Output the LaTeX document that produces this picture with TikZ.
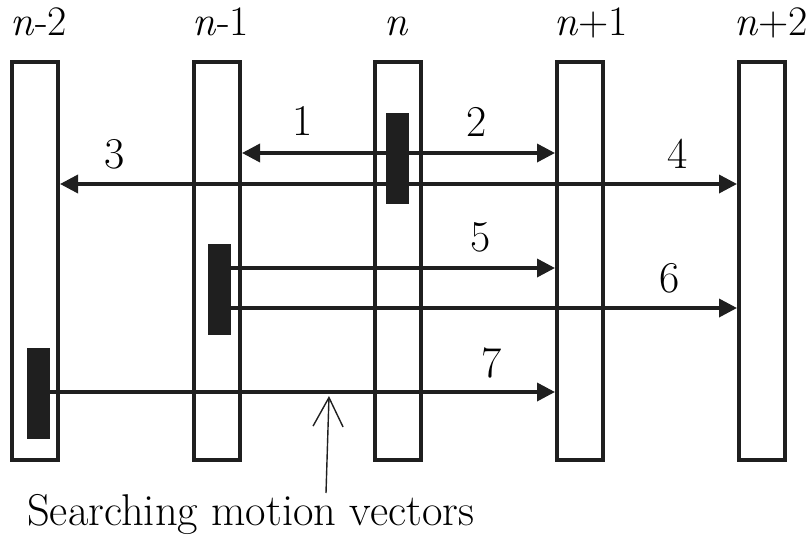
\documentclass[tikz,border=0pt]{standalone}
\usetikzlibrary{arrows.meta,calc}
\begin{document}
\begin{tikzpicture}[x=1pt,y=-1pt,
  frame/.style={draw=black!88,line width=4pt,minimum width=46pt,minimum height=398pt,inner sep=0pt},
  blk/.style={fill=black!88,minimum width=23pt,minimum height=91pt,inner sep=0pt},
  arr/.style={draw=black!88,line width=3.5pt,-{Triangle[length=18pt,width=18pt]}},
  lbl/.style={font=\fontsize{44}{44}\selectfont,anchor=base,inner sep=0pt},
  ttl/.style={font=\fontsize{42}{42}\selectfont,anchor=base,inner sep=0pt},
  ptr/.style={draw=black!88,line width=1.4pt,-{Straight Barb[length=29pt,width=30pt,line width=1.4pt]}}]
\useasboundingbox (0,0) rectangle (810,543);
% frames
\node[frame] (f0) at (35,261) {};
\node[frame] (f1) at (217,261) {};
\node[frame] (f2) at (398,261) {};
\node[frame] (f3) at (580,261) {};
\node[frame] (f4) at (762,261) {};
% titles
\node[ttl] (t0) at (39,36) {\textit{n}-2};
\node[ttl] (t1) at (221,36) {\textit{n}-1};
\node[ttl] (t2) at (397,36) {\textit{n}};
\node[ttl] (t3) at (591,36) {\textit{n}+1};
\node[ttl] (t4) at (771,36) {\textit{n}+2};
% blocks
\node[blk] (b2) at (397,158) {};
\node[blk] (b1) at (219,289.5) {};
\node[blk] (b0) at (38.5,393.5) {};
% arrows
\coordinate (a12) at (397,153);
\draw[arr] (a12) -- (a12 -| f1.east) ;
\draw[arr] (a12) -- (a12 -| f3.west);
\coordinate (a34) at (397,184);
\draw[arr] (a34) -- (a34 -| f0.east);
\draw[arr] (a34) -- (a34 -| f4.west);
\coordinate (a5) at (219,268);
\draw[arr] (a5 -| b1.east) -- (a5 -| f3.west);
\coordinate (a6) at (219,308);
\draw[arr] (a6 -| b1.east) -- (a6 -| f4.west);
\coordinate (a7) at (38,392);
\draw[arr] (a7 -| b0.east) -- (a7 -| f3.west);
% labels
\node[lbl] (l1) at (303,135) {1};
\node[lbl] (l2) at (477,136) {2};
\node[lbl] (l3) at (115,168) {3};
\node[lbl] (l4) at (678,168) {4};
\node[lbl] (l5) at (481,251) {5};
\node[lbl] (l6) at (670,292) {6};
\node[lbl] (l7) at (492,377) {7};
% caption
\node[ttl,font=\fontsize{44.5}{44.5}\selectfont,anchor=base west] (cap) at (27,525) {Searching motion vectors};
\coordinate (pb) at (326,493);
\coordinate (pt) at (329,396);
\draw[ptr] (pb) -- (pt);
\end{tikzpicture}
\end{document}
